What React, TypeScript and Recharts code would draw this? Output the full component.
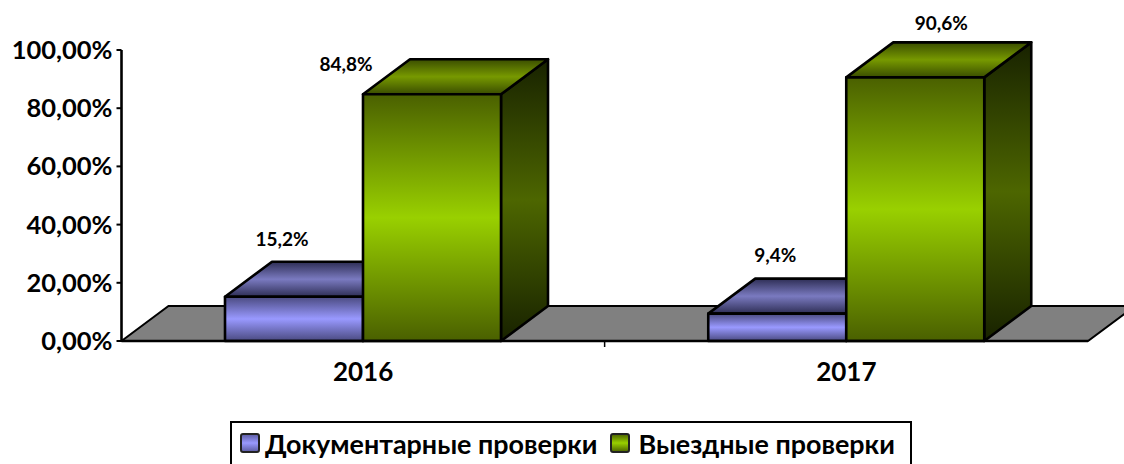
import { BarChart, Bar, XAxis, YAxis, Legend, LabelList, ReferenceArea } from "recharts";

const FONT = "Lato, 'Open Sans', sans-serif";
const years = ["2016", "2017"];
const documentary = [15.2, 9.4];
const onSite = [84.8, 90.6];
const yTicks = [0, 20, 40, 60, 80, 100];
const seriesNames = ["Документарные проверки", "Выездные проверки"];

const rows = years.map((year, i) => ({ year, documentary: documentary[i], onSite: onSite[i] }));

// depth of the fake 3d box
const DX = 47;
const DY = 35;
const BAND = 483;
const LINE = 2.6;

// hand placed labels in the original, relative to bar centre / bar top
const docNudge = [[-12, -58], [-2, -59]];
const siteNudge = [[-86, -31], [26, -55]];

function gradient(id: string, edge: string, mid: string) {
  return (
    <linearGradient id={id} x1="0" y1="0" x2="0" y2="1">
      <stop offset="0%" stopColor={edge} />
      <stop offset="50%" stopColor={mid} />
      <stop offset="100%" stopColor={edge} />
    </linearGradient>
  );
}

function Box3D(props: any) {
  const { x, y, width, height, front, top, side } = props;
  const stroke = { stroke: "#000", strokeWidth: LINE, strokeLinejoin: "round" as const };
  return (
    <g>
      <polygon
        points={`${x + width},${y} ${x + width + DX},${y - DY} ${x + width + DX},${y + height - DY} ${x + width},${y + height}`}
        fill={`url(#${side})`}
        {...stroke}
      />
      <polygon
        points={`${x},${y} ${x + DX},${y - DY} ${x + width + DX},${y - DY} ${x + width},${y}`}
        fill={`url(#${top})`}
        {...stroke}
      />
      <rect x={x} y={y} width={width} height={height} fill={`url(#${front})`} {...stroke} />
    </g>
  );
}

function Floor(props: any) {
  const { x, y, width, height } = props;
  const b = y + height;
  return (
    <polygon
      points={`${x},${b} ${x + DX},${b - DY} ${x + width + DX},${b - DY} ${x + width},${b}`}
      fill="#808080"
      stroke="#000"
      strokeWidth={2}
    />
  );
}

function YearTick(props: any) {
  const { x, y, payload, index } = props;
  return (
    <g>
      {index === 0 && <line x1={x + BAND / 2} y1={y - 8} x2={x + BAND / 2} y2={y - 2} stroke="#000" strokeWidth={1.5} />}
      <text x={x} y={y + 32} textAnchor="middle" fontFamily={FONT} fontWeight={700} fontSize={26} fill="#000">
        {payload.value}
      </text>
    </g>
  );
}

function percentLabel(nudge: number[][]) {
  return (props: any) => {
    const { x, y, width, value, index } = props;
    return (
      <text
        x={x + width / 2 + nudge[index][0]}
        y={y + nudge[index][1]}
        textAnchor="middle"
        dominantBaseline="central"
        fontFamily={FONT}
        fontWeight={700}
        fontSize={19}
        fill="#000"
      >
        {`${value.toFixed(1).replace(".", ",")}%`}
      </text>
    );
  };
}

function Swatch({ fill }: { fill: string }) {
  return (
    <svg width={20} height={20} style={{ display: "block", flex: "none" }}>
      <rect x={1} y={1} width={18} height={18} rx={2} fill={`url(#${fill})`} stroke="#222" strokeWidth={2} />
    </svg>
  );
}

function LegendBox() {
  return (
    <div
      style={{
        boxSizing: "border-box",
        width: 682,
        height: 50,
        border: "2.5px solid #000",
        display: "flex",
        alignItems: "flex-start",
        paddingTop: 10,
        paddingLeft: 8,
        fontFamily: FONT,
        fontWeight: 700,
        fontSize: 26.9,
        lineHeight: "22px",
        color: "#000",
        whiteSpace: "nowrap",
      }}
    >
      <Swatch fill="docLegend" />
      <span style={{ marginLeft: 5, marginRight: 13 }}>{seriesNames[0]}</span>
      <Swatch fill="siteLegend" />
      <span style={{ marginLeft: 8 }}>{seriesNames[1]}</span>
    </div>
  );
}

export default function App() {
  return (
    <div style={{ width: 1124, height: 464, overflow: "hidden", position: "absolute", left: 0, top: 0, background: "#fff" }}>
      <BarChart
        width={1124}
        height={464}
        data={rows}
        barCategoryGap={103.5}
        barGap={0}
        margin={{ top: 50, right: 36, bottom: 33, left: 0 }}
      >
        <defs>
          {gradient("docFront", "#4a4a80", "#9999ff")}
          {gradient("docTop", "#2e2e55", "#7a7ac0")}
          {gradient("docSide", "#1f1f3a", "#4d4d80")}
          {gradient("siteFront", "#4a6000", "#99d000")}
          {gradient("siteTop", "#3a4d00", "#779900")}
          {gradient("siteSide", "#182200", "#4d6600")}
          {gradient("docLegend", "#5a5aa0", "#9999ff")}
          {gradient("siteLegend", "#4a6000", "#99d000")}
        </defs>
        <ReferenceArea y1={0} y2={100} shape={<Floor />} ifOverflow="visible" />
        <XAxis
          dataKey="year"
          height={40}
          axisLine={{ stroke: "#000", strokeWidth: LINE }}
          tickLine={false}
          tick={<YearTick />}
          interval={0}
        />
        <YAxis
          width={121.5}
          domain={[0, 100]}
          ticks={yTicks}
          interval={0}
          axisLine={{ stroke: "#000", strokeWidth: LINE }}
          tickLine={{ stroke: "#000", strokeWidth: 2 }}
          tickSize={5}
          tickMargin={4}
          tick={{ fontFamily: FONT, fontWeight: 700, fontSize: 25.5, fill: "#000" }}
          tickFormatter={(v: number) => `${v.toFixed(2).replace(".", ",")}%`}
        />
        <Legend
          content={<LegendBox />}
          wrapperStyle={{ left: 230, bottom: -7, width: 682, height: 50 }}
        />
        <Bar
          dataKey="documentary"
          name={seriesNames[0]}
          isAnimationActive={false}
          shape={<Box3D front="docFront" top="docTop" side="docSide" />}
        >
          <LabelList dataKey="documentary" content={percentLabel(docNudge)} />
        </Bar>
        <Bar
          dataKey="onSite"
          name={seriesNames[1]}
          isAnimationActive={false}
          shape={<Box3D front="siteFront" top="siteTop" side="siteSide" />}
        >
          <LabelList dataKey="onSite" content={percentLabel(siteNudge)} />
        </Bar>
      </BarChart>
    </div>
  );
}
